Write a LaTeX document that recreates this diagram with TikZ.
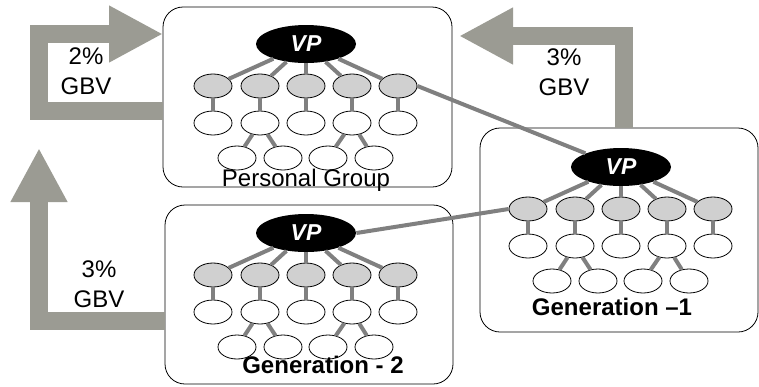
\documentclass[tikz,border=0pt]{standalone}
\usepackage{fontspec}
\setmainfont{Liberation Sans}
\usetikzlibrary{positioning, arrows.meta, shapes.geometric}
\definecolor{arrowgray}{RGB}{155,155,147}
\definecolor{linkgray}{RGB}{128,128,128}
\definecolor{cellgray}{RGB}{208,208,208}

\begin{document}
\begin{tikzpicture}[x=0.5pt, y=-0.5pt,
	group/.style={draw, rectangle, rounded corners=10pt, fill=white, outer sep=0pt},
	boss/.style={ellipse, fill=black, minimum width=50pt, minimum height=19pt, inner sep=0pt,
		text=white, font=\fontsize{11.5}{12}\selectfont\bfseries\itshape},
	member/.style={ellipse, draw, fill=cellgray, minimum width=19pt, minimum height=12pt, inner sep=0pt},
	leaf/.style={ellipse, draw, fill=white, minimum width=19pt, minimum height=12pt, inner sep=0pt},
	link/.style={draw=linkgray, line width=2pt},
	gbv/.style={draw=arrowgray, line width=9pt, line join=miter, -{Triangle[width=26.5pt, length=27pt]}},
	rate/.style={align=center, font=\fontsize{12}{15}\selectfont},
	title/.style={font=\fontsize{12}{14}\selectfont},
	boldtitle/.style={font=\fontsize{12}{14}\selectfont\bfseries}]
	
	\useasboundingbox (0,0) rectangle (759,386);
	
	%Boxes of the three groups
	\node[group, minimum width=144.5pt, minimum height=90pt] (personal) at (307.5,97) {};
	\node[group, minimum width=144pt, minimum height=89.5pt] (genTwo) at (309,294.5) {};
	\node[group, minimum width=139pt, minimum height=102pt] (genOne) at (619,230) {};
	
	%GBV arrows
	\coordinate (tipB) at (459,36);
	\coordinate (tipC) at (39,148);
	
	\draw[gbv] (personal.west |- 0,111) -| (39,34) -- (personal.west |- 0,34);
	\draw[gbv] (624,0 |- genOne.north) -- (624,36) -- (tipB);
	\draw[gbv] (genTwo.west |- 0,321) -| (tipC);
	
	\node[rate] (rateA) at (86,71) {2\%\\GBV};
	\node[rate] (rateB) at (564,72) {3\%\\GBV};
	\node[rate] (rateC) at (99,284) {3\%\\GBV};
	
	%Trees inside the boxes
	\foreach \g/\cx/\cy in {personal/306/44, genTwo/306/233, genOne/621/167} {
		\node[boss] (\g VP) at (\cx,\cy) {VP};
		\foreach \i/\x in {1/-93,2/-46,3/0,4/46,5/92} {
			\node[member] (\g Top\i) at (\cx+\x,\cy+42) {};
			\node[leaf] (\g Mid\i) at (\cx+\x,\cy+79) {};
			\draw[link] (\g VP) -- (\g Top\i);
			\draw[link] (\g Top\i) -- (\g Mid\i);
		}
		\foreach \i/\x in {1/-69,2/-23,3/22,4/68}
			\node[leaf] (\g Low\i) at (\cx+\x,\cy+114) {};
		\draw[link] (\g Mid2) -- (\g Low1);
		\draw[link] (\g Mid2) -- (\g Low2);
		\draw[link] (\g Mid4) -- (\g Low3);
		\draw[link] (\g Mid4) -- (\g Low4);
	}
	
	%Links between the groups
	\draw[link] (personalTop5.east) -- (genOneVP.north west);
	\draw[link] (genTwoVP.east) -- (genOneTop1.west);
	
	%Titles
	\node[title] (personalTitle) at (306,180) {Personal Group};
	\node[boldtitle] (genTwoTitle) at (323,365) {Generation - 2};
	\node[boldtitle] (genOneTitle) at (612,307) {Generation –1};
	
\end{tikzpicture}
\end{document}
